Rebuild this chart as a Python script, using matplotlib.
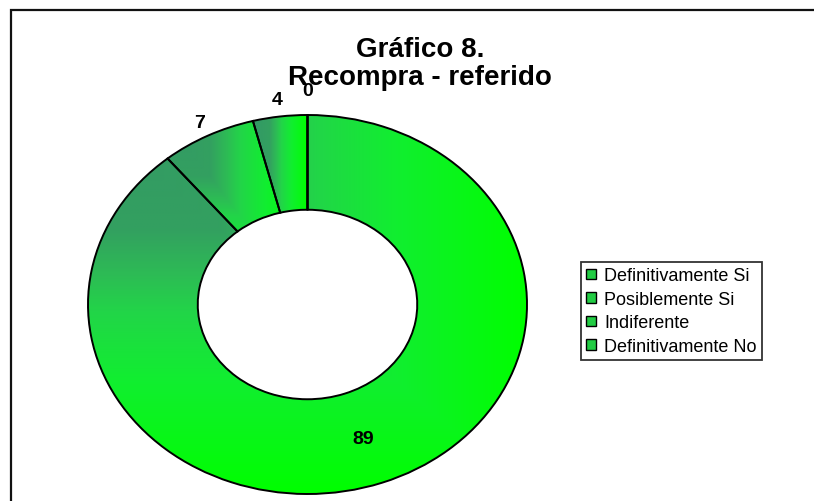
import numpy as np
import matplotlib
matplotlib.use("Agg")
import matplotlib.pyplot as plt
from matplotlib.colors import LinearSegmentedColormap
from matplotlib.patches import Patch, Rectangle

categories = ["Definitivamente Si", "Posiblemente Si", "Indiferente", "Definitivamente No"]
values = [89, 7, 4, 0]
label_radius = [0.75, 1.08, 1.09, 1.13]
title = "Gráfico 8.\nRecompra - referido"

plt.rcParams['font.family'] = ['Liberation Sans', 'DejaVu Sans']

W, H = 814, 502
fig = plt.figure(figsize=(W / 100, H / 100), dpi=100)
fig.patch.set_facecolor("white")

# outer chart frame
fig.add_artist(Rectangle((11 / W, -0.05), 1.2, 1 - 11 / H + 0.05, transform=fig.transFigure,
                         fill=False, edgecolor="#111111", linewidth=1.6))

cx, cy, rx, ry = 307.5, 305.5, 219.5, 189.5
ax = fig.add_axes([(cx - rx) / W, (H - cy - ry) / H, 2 * rx / W, 2 * ry / H])
wedges, _ = ax.pie(values, startangle=90, counterclock=False, radius=1.0,
                   wedgeprops=dict(width=0.5, edgecolor="black", linewidth=1.4),
                   colors=["#22DD44"] * len(values))
ax.set_aspect("auto")
ax.set_xlim(-1, 1)
ax.set_ylim(-1, 1)
ax.axis("off")

cmap = LinearSegmentedColormap.from_list(
    "grn", [(0.0, "#339966"), (0.3, "#33A060"), (0.42, "#2DBB55"), (0.52, "#22D548"),
            (0.7, "#11EE30"), (1.0, "#00FF00")])

for w, v in zip(wedges, values):
    if v <= 0:
        continue
    w.set_facecolor("none")
    verts = w.get_path().vertices
    x0, y0 = verts.min(axis=0)
    x1, y1 = verts.max(axis=0)
    n = 300
    xx, yy = np.meshgrid(np.linspace(0, 1, n), np.linspace(0, 1, n))
    t = np.maximum(xx, yy)  # "from corner" gradient, dark at upper-left
    im = ax.imshow(t, cmap=cmap, vmin=0, vmax=1, extent=[x0, x1, y0, y1],
                   origin="upper", aspect="auto", interpolation="bilinear", zorder=0.5)
    im.set_clip_path(w)
    w.set_zorder(1)

ax.set_xlim(-1, 1)
ax.set_ylim(-1, 1)

# data labels at the middle angle of each slice
total = float(sum(values))
start = 90.0
for v, r in zip(values, label_radius):
    span = 360.0 * v / total
    mid = np.deg2rad(start - span / 2.0)
    ax.text(r * np.cos(mid), r * np.sin(mid), f"{v}", ha="center", va="center",
            fontsize=14, fontweight="bold", color="black", clip_on=False, zorder=5)
    start -= span

fig.text(420 / W, 1 - 64 / H, title, ha="center", va="center", fontsize=20,
         fontweight="bold", linespacing=1.12)

handles = [Patch(facecolor="#22CC44", edgecolor="black", linewidth=1.0) for _ in categories]
leg = fig.legend(handles, categories, loc="upper left",
                 bbox_to_anchor=(581 / W, 1 - 263 / H), frameon=True, fancybox=False,
                 fontsize=13, handlelength=0.55, handleheight=0.55, handletextpad=0.45,
                 labelspacing=0.36, borderpad=0.3, borderaxespad=0)
leg.get_frame().set_edgecolor("black")
leg.get_frame().set_linewidth(1.3)

fig.savefig("out.png", dpi=100)
